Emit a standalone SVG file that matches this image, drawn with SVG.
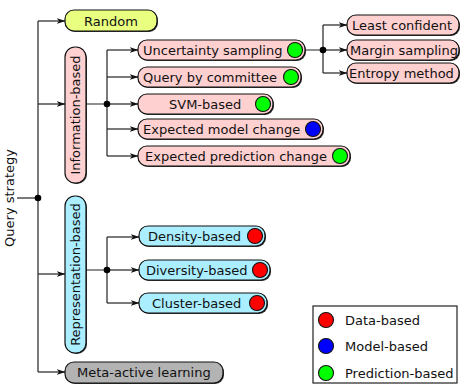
<svg xmlns="http://www.w3.org/2000/svg" width="467" height="388" viewBox="0 0 467 388">
  <defs>
    <marker id="arr" markerWidth="9" markerHeight="6" refX="8.5" refY="3" orient="auto" markerUnits="userSpaceOnUse">
      <path d="M0,0 L9,3 L0,6 L2.5,3 Z" fill="#111"/>
    </marker>
    <style>
      text { font-family: "DejaVu Sans", Verdana, sans-serif; font-size: 13px; fill: #111; }
      .sh { fill: #333; }
      .box { stroke: #111; stroke-width: 1.2; }
      .info { fill: #ffd0d0; }
      .repr { fill: #aaeeff; }
      .rand { fill: #e8ff80; }
      .meta { fill: #b3b3b3; }
      .edge { fill: none; stroke: #222; stroke-width: 1.2; }
      .dot { fill: #000; }
      .g { fill: #00ff00; stroke: #111; stroke-width: 1.1; }
      .b { fill: #0000ff; stroke: #111; stroke-width: 1.1; }
      .r { fill: #ff0000; stroke: #111; stroke-width: 1.1; }
    </style>
  </defs>
  <rect width="467" height="388" fill="#fff"/>

  <g id="connectors">
    <!-- root trunk -->
    <path class="edge" d="M17,198 H38"/>
    <path class="edge" d="M38,21 V372"/>
    <path class="edge" d="M38,21 H65" marker-end="url(#arr)"/>
    <path class="edge" d="M38,104 H65" marker-end="url(#arr)"/>
    <path class="edge" d="M38,274 H65" marker-end="url(#arr)"/>
    <path class="edge" d="M38,372 H65" marker-end="url(#arr)"/>
    <circle class="dot" cx="38" cy="198" r="3.3"/>
    <!-- information-based branch -->
    <path class="edge" d="M86,104 H107 M107,50 V156"/>
    <path class="edge" d="M107,50 H138" marker-end="url(#arr)"/>
    <path class="edge" d="M107,77 H138" marker-end="url(#arr)"/>
    <path class="edge" d="M107,104 H138" marker-end="url(#arr)"/>
    <path class="edge" d="M107,129 H138" marker-end="url(#arr)"/>
    <path class="edge" d="M107,156 H138" marker-end="url(#arr)"/>
    <circle class="dot" cx="107" cy="104" r="3.3"/>
    <!-- uncertainty sampling branch -->
    <path class="edge" d="M305,50 H323 M323,25 V73"/>
    <path class="edge" d="M323,25 H347" marker-end="url(#arr)"/>
    <path class="edge" d="M323,50 H347" marker-end="url(#arr)"/>
    <path class="edge" d="M323,73 H347" marker-end="url(#arr)"/>
    <circle class="dot" cx="323" cy="50" r="3.3"/>
    <!-- representation-based branch -->
    <path class="edge" d="M86,270 H107 M107,237 V303"/>
    <path class="edge" d="M107,237 H139" marker-end="url(#arr)"/>
    <path class="edge" d="M107,270 H139" marker-end="url(#arr)"/>
    <path class="edge" d="M107,303 H139" marker-end="url(#arr)"/>
    <circle class="dot" cx="107" cy="270" r="3.3"/>
  </g>

  <text transform="translate(14,198) rotate(-90)" text-anchor="middle">Query strategy</text>

  <g id="random">
    <rect class="sh" x="66" y="11" width="92" height="21" rx="9"/>
    <rect class="box rand" x="65" y="10" width="92" height="21" rx="9"/>
    <text x="111" y="25.5" text-anchor="middle">Random</text>
  </g>

  <g id="information-based">
    <rect class="sh" x="66" y="48" width="21" height="136" rx="10"/>
    <rect class="box info" x="65" y="47" width="21" height="136" rx="10"/>
    <text transform="translate(80,115) rotate(-90)" text-anchor="middle">Information-based</text>
  </g>

  <g id="uncertainty-sampling">
    <rect class="sh" x="139" y="41" width="167" height="20" rx="9"/>
    <rect class="box info" x="138" y="40" width="167" height="20" rx="9"/>
    <text x="143" y="55">Uncertainty sampling</text>
    <circle class="g" cx="295" cy="50" r="7.5"/>
  </g>

  <g id="query-by-committee">
    <rect class="sh" x="139" y="68" width="163" height="20" rx="9"/>
    <rect class="box info" x="138" y="67" width="163" height="20" rx="9"/>
    <text x="143" y="82">Query by committee</text>
    <circle class="g" cx="291" cy="77" r="7.5"/>
  </g>

  <g id="svm-based">
    <rect class="sh" x="139" y="95" width="135" height="20" rx="9"/>
    <rect class="box info" x="138" y="94" width="135" height="20" rx="9"/>
    <text x="169" y="109">SVM-based</text>
    <circle class="g" cx="263" cy="104" r="7.5"/>
  </g>

  <g id="expected-model-change">
    <rect class="sh" x="139" y="120" width="185" height="20" rx="9"/>
    <rect class="box info" x="138" y="119" width="185" height="20" rx="9"/>
    <text x="143" y="134">Expected model change</text>
    <circle class="b" cx="313" cy="129" r="7.5"/>
  </g>

  <g id="expected-prediction-change">
    <rect class="sh" x="139" y="147" width="212" height="20" rx="9"/>
    <rect class="box info" x="138" y="146" width="212" height="20" rx="9"/>
    <text x="145" y="161">Expected prediction change</text>
    <circle class="g" cx="340" cy="156" r="7.5"/>
  </g>

  <g id="least-confident">
    <rect class="sh" x="348" y="16" width="112" height="20" rx="9"/>
    <rect class="box info" x="347" y="15" width="112" height="20" rx="9"/>
    <text x="352" y="30">Least confident</text>
  </g>

  <g id="margin-sampling">
    <rect class="sh" x="348" y="41" width="112" height="20" rx="9"/>
    <rect class="box info" x="347" y="40" width="112" height="20" rx="9"/>
    <text x="350" y="55">Margin sampling</text>
  </g>

  <g id="entropy-method">
    <rect class="sh" x="348" y="64" width="112" height="20" rx="9"/>
    <rect class="box info" x="347" y="63" width="112" height="20" rx="9"/>
    <text x="349" y="78">Entropy method</text>
  </g>

  <g id="representation-based">
    <rect class="sh" x="66" y="197" width="21" height="157" rx="10"/>
    <rect class="box repr" x="65" y="196" width="21" height="157" rx="10"/>
    <text transform="translate(80,274.5) rotate(-90)" text-anchor="middle">Representation-based</text>
  </g>

  <g id="density-based">
    <rect class="sh" x="140" y="227" width="126" height="20" rx="9"/>
    <rect class="box repr" x="139" y="226" width="126" height="20" rx="9"/>
    <text x="148" y="241">Density-based</text>
    <circle class="r" cx="255" cy="236" r="7.5"/>
  </g>

  <g id="diversity-based">
    <rect class="sh" x="140" y="261" width="131" height="20" rx="9"/>
    <rect class="box repr" x="139" y="260" width="131" height="20" rx="9"/>
    <text x="146" y="275">Diversity-based</text>
    <circle class="r" cx="260" cy="270" r="7.5"/>
  </g>

  <g id="cluster-based">
    <rect class="sh" x="140" y="294" width="128" height="20" rx="9"/>
    <rect class="box repr" x="139" y="293" width="128" height="20" rx="9"/>
    <text x="152" y="308">Cluster-based</text>
    <circle class="r" cx="257" cy="303" r="7.5"/>
  </g>

  <g id="meta-active-learning">
    <rect class="sh" x="66" y="363" width="158" height="21" rx="9"/>
    <rect class="box meta" x="65" y="362" width="158" height="21" rx="9"/>
    <text x="77" y="377">Meta-active learning</text>
  </g>

  <g id="legend">
    <rect x="313" y="306" width="144" height="77" fill="#fff" stroke="#222" stroke-width="1.2"/>
    <circle class="r" cx="326" cy="320" r="7.5"/>
    <text x="345" y="325">Data-based</text>
    <circle class="b" cx="326" cy="346" r="7.5"/>
    <text x="345" y="351">Model-based</text>
    <circle class="g" cx="326" cy="373" r="7.5"/>
    <text x="345" y="378">Prediction-based</text>
  </g>
</svg>
